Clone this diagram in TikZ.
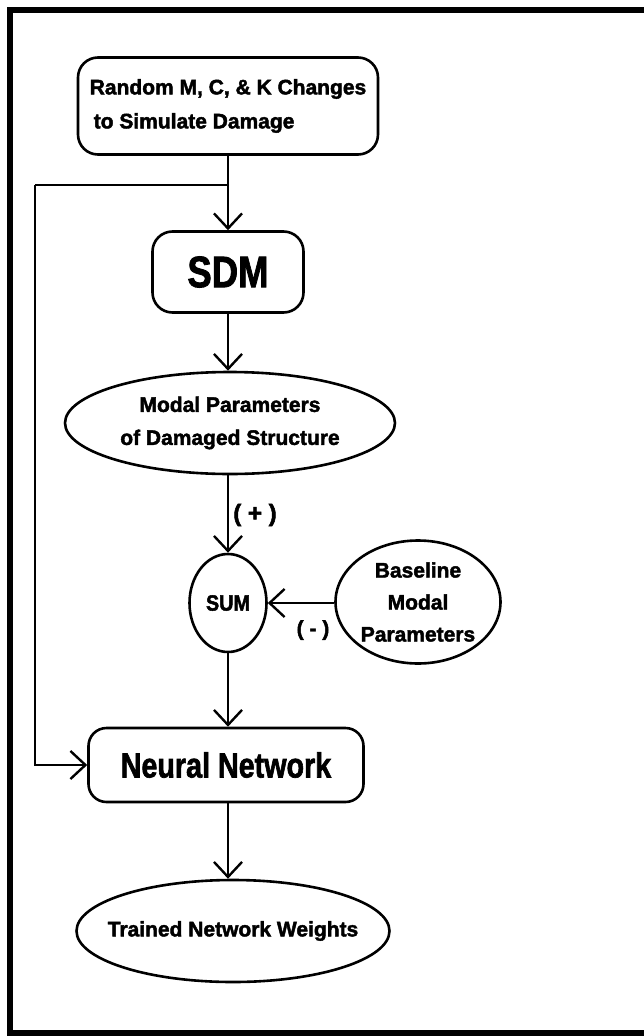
\documentclass[tikz,border=0pt]{standalone}
\usepackage{fontspec}
\setmainfont{Liberation Sans}[BoldFeatures={FakeBold=2}]
\usepackage{graphicx}
\usetikzlibrary{shapes.geometric,arrows.meta}

\begin{document}
\begin{tikzpicture}[x=1pt,y=1pt,
  box/.style={draw,line width=2.6pt,rounded corners=20pt,inner sep=0pt,
    font=\bfseries\fontsize{21}{34}\selectfont},
  oval/.style={draw,ellipse,line width=2.6pt,inner sep=0pt,align=center,
    font=\bfseries\fontsize{21}{33}\selectfont},
  link/.style={line width=2pt,-{Straight Barb[length=15pt,width=28pt,line width=2.4pt]}},
  wire/.style={line width=2pt},
  lbl/.style={font=\bfseries\fontsize{21}{25}\selectfont}]
\useasboundingbox (0,0) rectangle (644,-1036);
\fill[white] (0,0) rectangle (644,-1036);
% outer frame (runs past the right edge of the page)
\draw[line width=6pt] (10,-10) rectangle (720,-1033);

% blocks of the training loop
\node[box,align=left,minimum width=300,minimum height=97] (rnd) at (228,-106)
  {Random M, C, \& K Changes\\\hspace*{4pt}to Simulate Damage};
\node[box,minimum width=151,minimum height=81] (sdm) at (228,-272)
  {\fontsize{44}{44}\selectfont\scalebox{0.83}[1]{SDM}};
\node[oval,minimum width=330,minimum height=102] (modal) at (230,-423)
  {Modal Parameters\\of Damaged Structure};
\node[oval,inner xsep=-20pt,minimum width=77,minimum height=98] (sum) at (228,-603)
  {\fontsize{22}{22}\selectfont\scalebox{0.9}[1]{SUM}};
\node[oval,minimum width=165,minimum height=123,
  font=\bfseries\fontsize{21}{32}\selectfont] (base) at (418,-602)
  {Baseline\\Modal\\Parameters};
\node[box,rounded corners=18pt,minimum width=275,minimum height=74] (nn) at (226,-765)
  {\fontsize{35}{35}\selectfont\scalebox{0.82}[1]{Neural Network}};
\node[oval,inner xsep=-40pt,minimum width=313,minimum height=102] (trained) at (233,-931)
  {Trained Network Weights};

% connectors
\coordinate (split) at (228,-185);
\coordinate (fbturn) at (35,-185);
\draw[link] (rnd.south) -- (sdm.north);
\draw[link] (sdm.south) -- (sdm.south |- modal.north);
\draw[link] (sdm.south |- modal.south) -- (sum.north);
\draw[link] (base.west |- sum.east) -- (sum.east);
\draw[link] (sum.south) -- (sum.south |- nn.north);
\draw[link] (sum.south |- nn.south) -- (sum.south |- trained.north);
\draw[wire] (split) -- (fbturn);
\draw[link] (fbturn) |- (nn.west);

% signs at the summing junction
\node[lbl,font=\bfseries\fontsize{24}{28}\selectfont] (plus) at (255,-515) {( + )};
\node[lbl] (minus) at (313,-630) {( - )};
\end{tikzpicture}
\end{document}
